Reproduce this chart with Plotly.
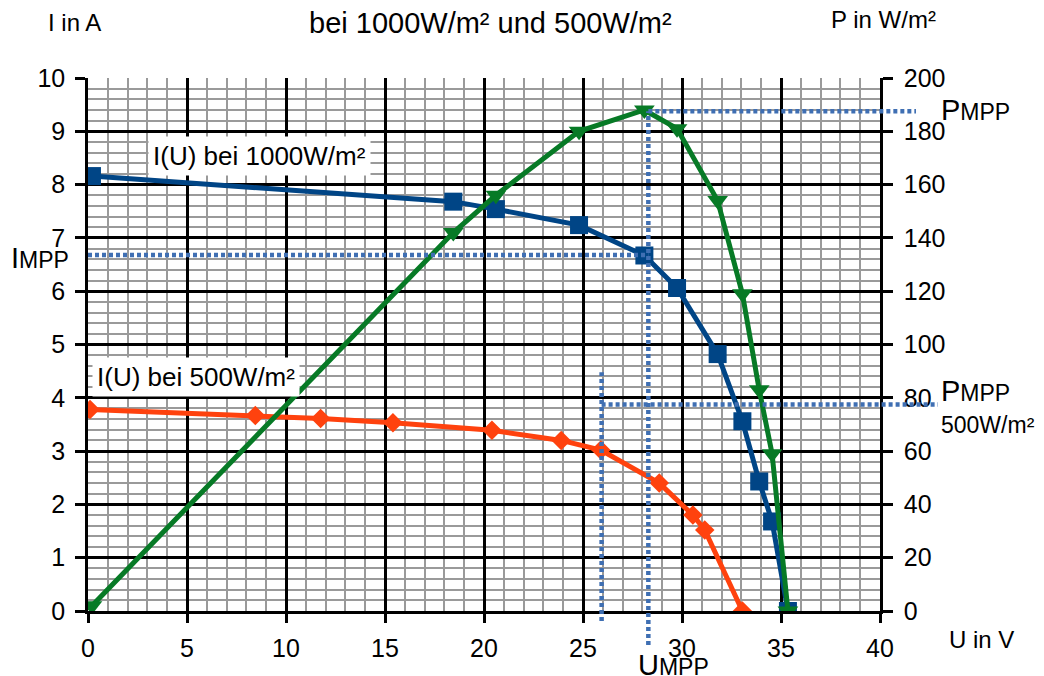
import plotly.graph_objects as go

# ---- data ----
u_1000 = [0.2, 18.45, 20.6, 24.8, 28.1, 29.75, 31.8, 33.05, 33.9, 34.55, 35.35]
i_1000 = [8.16, 7.68, 7.54, 7.24, 6.67, 6.06, 4.82, 3.56, 2.43, 1.68, 0.0]
p_1000 = [2.0, 142.0, 156.0, 180.0, 188.0, 181.0, 154.0, 119.0, 83.0, 59.0, 0.0]

u_500 = [0.1, 8.45, 11.75, 15.4, 20.4, 23.9, 25.9, 28.85, 30.55, 31.15, 33.05]
i_500 = [3.78, 3.67, 3.61, 3.53, 3.39, 3.2, 3.02, 2.4, 1.8, 1.52, 0.0]

x_ticks = [0, 5, 10, 15, 20, 25, 30, 35, 40]
y_ticks = [0, 1, 2, 3, 4, 5, 6, 7, 8, 9, 10]
y2_ticks = [0, 20, 40, 60, 80, 100, 120, 140, 160, 180, 200]

U_MPP = 28.3
I_MPP = 6.68
P_MPP = 187.5
U_MPP_500 = 25.94
P_MPP_500 = 77.5

X_MAX = 40
Y_MAX = 10
Y2_MAX = 200

FONT = "Liberation Sans, Arial, sans-serif"
BLUE = "#004586"
ORANGE = "#ff420e"
GREEN = "#077a26"
DOT = "#3f6fb3"

# page offset of the plotly div (default body margin)
OFF = 8
W, H = 1044 - OFF, 676 - OFF
# plot area in window pixels (for label placement)
L, R, T, B = 88, 880, 77.7, 611.0
def px(x):
    return (x - L) / (R - L)
def py(y):
    return (B - y) / (B - T)

fig = go.Figure()

fig.add_trace(go.Scatter(
    x=u_1000, y=p_1000, yaxis="y2", mode="lines+markers",
    line=dict(color=GREEN, width=5),
    marker=dict(symbol="triangle-down", size=18, color=GREEN),
    name="P(U) bei 1000W/m²", showlegend=False))

fig.add_trace(go.Scatter(
    x=u_500, y=i_500, mode="lines+markers",
    line=dict(color=ORANGE, width=5),
    marker=dict(symbol="diamond", size=15, color=ORANGE),
    name="I(U) bei 500W/m²", showlegend=False))

fig.add_trace(go.Scatter(
    x=u_1000, y=i_1000, mode="lines+markers",
    line=dict(color=BLUE, width=5),
    marker=dict(symbol="square", size=18, color=BLUE),
    name="I(U) bei 1000W/m²", showlegend=False))

dotline = dict(color=DOT, width=4.5, dash="4px,3px")
shapes = [
    dict(type="line", xref="x", yref="y", x0=0, x1=U_MPP, y0=I_MPP, y1=I_MPP, line=dotline, layer="above"),
    dict(type="line", xref="x", yref="paper", x0=U_MPP, x1=U_MPP, y0=py(645), y1=P_MPP / Y2_MAX, line=dotline, layer="above"),
    dict(type="line", xref="paper", yref="y2", x0=U_MPP / X_MAX, x1=px(916), y0=P_MPP, y1=P_MPP, line=dotline, layer="above"),
    dict(type="line", xref="x", yref="paper", x0=U_MPP_500, x1=U_MPP_500, y0=py(621), y1=py(372), line=dotline, layer="above"),
    dict(type="line", xref="paper", yref="y2", x0=U_MPP_500 / X_MAX, x1=px(938), y0=P_MPP_500, y1=P_MPP_500, line=dotline, layer="above"),
]

def ann(text, x, y, size, xanchor="left", bg=None):
    d = dict(text=text, x=px(x), y=py(y), xref="paper", yref="paper",
             xanchor=xanchor, yanchor="middle", showarrow=False,
             font=dict(family=FONT, size=size, color="black"))
    if bg:
        d["bgcolor"] = bg
        d["borderpad"] = 4
    return d

SUB = "<span style='font-size:23px'>MPP</span>"

annotations = [
    ann("I in A", 74, 22, 24, "center"),
    ann("bei 1000W/m² und 500W/m²", 490, 23, 29, "center"),
    ann("P in W/m²", 884, 19, 24, "center"),
    ann("I(U) bei 1000W/m²", 148, 156, 26, "left", "white"),
    ann("I(U) bei 500W/m²", 92, 377, 26, "left", "white"),
    ann("I" + SUB, 9, 258, 29, "left"),
    ann("P" + SUB, 939, 110, 29, "left"),
    ann("P" + SUB, 939, 391, 29, "left"),
    ann("500W/m²", 939, 425, 23, "left"),
    ann("U in V", 947, 640, 24, "left"),
    ann("U" + SUB, 636, 665, 29, "left"),
]

fig.update_layout(
    width=W, height=H,
    margin=dict(l=L - OFF, r=W - (R - OFF), t=T - OFF, b=H - (B - OFF), autoexpand=False),
    plot_bgcolor="white", paper_bgcolor="white",
    font=dict(family=FONT, size=25, color="black"),
    showlegend=False,
    shapes=shapes, annotations=annotations,
    xaxis=dict(
        range=[0, X_MAX], tickvals=x_ticks, ticktext=[str(v) for v in x_ticks],
        showgrid=True, gridcolor="black", gridwidth=2.5,
        minor=dict(dtick=1, showgrid=True, gridcolor="#9a9a9a", gridwidth=1.5),
        ticks="outside", ticklen=9, tickwidth=2.5, tickcolor="black",
        showline=True, linecolor="black", linewidth=2.5, mirror=False,
        zeroline=False, ticklabelstandoff=4, automargin=False,
        tickfont=dict(family=FONT, size=25, color="black")),
    yaxis=dict(
        range=[0, Y_MAX], tickvals=y_ticks, ticktext=[str(v) for v in y_ticks],
        showgrid=True, gridcolor="black", gridwidth=2.5,
        minor=dict(dtick=0.2, showgrid=True, gridcolor="#9a9a9a", gridwidth=1.5),
        ticks="outside", ticklen=10, tickwidth=2.5, tickcolor="black",
        showline=True, linecolor="black", linewidth=2.5,
        zeroline=False, ticklabelstandoff=5, automargin=False,
        tickfont=dict(family=FONT, size=25, color="black")),
    yaxis2=dict(
        range=[0, Y2_MAX], tickvals=y2_ticks, ticktext=[str(v) for v in y2_ticks],
        overlaying="y", side="right", showgrid=False,
        ticks="outside", ticklen=10, tickwidth=2.5, tickcolor="black",
        showline=True, linecolor="black", linewidth=2.5,
        zeroline=False, ticklabelstandoff=6, automargin=False,
        tickfont=dict(family=FONT, size=25, color="black")),
)

fig.write_html("out.html")
